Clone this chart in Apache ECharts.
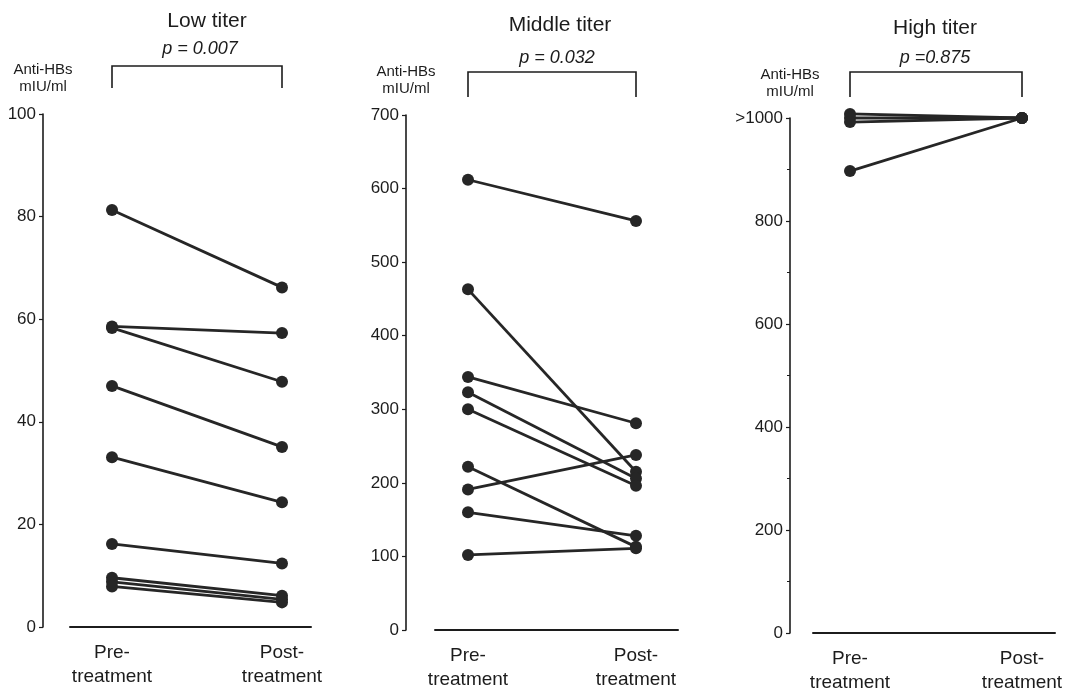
<!DOCTYPE html>
<html>
<head>
<meta charset="utf-8">
<script src="https://cdn.jsdelivr.net/npm/echarts@6/dist/echarts.min.js"></script>
<style>
html,body{margin:0;padding:0;background:#fff;}
#chart{width:1067px;height:697px;}
</style>
</head>
<body>
<div id="chart"></div>
<script>
// ---- data ----
const categories = ['Pre-\ntreatment', 'Post-\ntreatment'];
const panelTitles = ['Low titer', 'Middle titer', 'High titer'];
const pValues = ['p = 0.007', 'p = 0.032', 'p =0.875'];
const yAxisName = 'Anti-HBs\nmIU/ml';

const lowPre  = [81.3, 58.6, 58.3, 47.0, 33.1, 16.2, 9.6, 8.8, 7.9];
const lowPost = [66.2, 57.3, 47.8, 35.1, 24.3, 12.4, 6.1, 5.4, 4.8];

const midPre  = [612, 463, 344, 323, 300, 222, 191, 160, 102];
const midPost = [556, 215, 281, 206, 196, 113, 238, 128, 111];

const highPre  = [1008, 1000, 992, 897];
const highPost = [1000, 1000, 1000, 1000];

const lowTicks  = {min: 0, max: 100, interval: 20};
const midTicks  = {min: 0, max: 700, interval: 100};
const highTicks = {min: 0, max: 1000, interval: 200};

// ---- layout ----
const FONT = '"Liberation Sans", Arial, Helvetica, sans-serif';
const INK = '#1c1c1c';
const panels = [
  {pre: lowPre,  post: lowPost,  ticks: lowTicks,  axisX: 43,  lineL: 70,  lineW: 241, dataL: 112, dataW: 170, top: 114, bottom: 627, nameGap: 19,
   titleX: 207, titleY: 21, pX: 200, pY: 49, brTop: 66, brBot: 88, fmt: v => v},
  {pre: midPre,  post: midPost,  ticks: midTicks,  axisX: 406, lineL: 435, lineW: 243, dataL: 468, dataW: 168, top: 115, bottom: 630, nameGap: 18,
   titleX: 560, titleY: 25, pX: 557, pY: 58, brTop: 72, brBot: 97, fmt: v => v},
  {pre: highPre, post: highPost, ticks: highTicks, axisX: 790, lineL: 813, lineW: 242, dataL: 850, dataW: 172, top: 118, bottom: 633, nameGap: 18,
   titleX: 935, titleY: 28, pX: 935, pY: 58, brTop: 72, brBot: 97, fmt: v => (v === 1000 ? '>1000' : v), minor: true}
];

const grid = [], xAxis = [], yAxis = [], series = [];
panels.forEach((p, i) => {
  const h = p.bottom - p.top;
  grid.push({left: p.lineL, top: p.top, width: p.lineW, height: h});
  grid.push({left: p.dataL, top: p.top, width: p.dataW, height: h});
  // axis grid
  xAxis.push({gridIndex: 2*i, type: 'category', data: categories, show: true,
    axisLine: {show: true, lineStyle: {color: INK, width: 2}}, axisTick: {show: false}, axisLabel: {show: false}, splitLine: {show: false}});
  yAxis.push({gridIndex: 2*i, type: 'value', min: p.ticks.min, max: p.ticks.max, interval: p.ticks.interval,
    offset: p.lineL - p.axisX,
    name: yAxisName, nameLocation: 'end', nameGap: p.nameGap,
    nameTextStyle: {fontFamily: FONT, fontSize: 15, color: INK, align: 'center', verticalAlign: 'bottom', lineHeight: 17},
    axisLine: {show: true, lineStyle: {color: INK, width: 1.6}},
    axisTick: {show: true, length: 4, lineStyle: {color: INK, width: 1.2}},
    minorTick: {show: !!p.minor, splitNumber: 2, length: 3, lineStyle: {color: INK, width: 1}},
    axisLabel: {fontFamily: FONT, fontSize: 17, color: INK, margin: 7, formatter: p.fmt},
    splitLine: {show: false}});
  // data grid
  xAxis.push({gridIndex: 2*i+1, type: 'category', data: categories, boundaryGap: false,
    axisLine: {show: false}, axisTick: {show: false},
    axisLabel: {show: true, interval: 0, fontFamily: FONT, fontSize: 19, color: INK, margin: 14, lineHeight: 24, align: 'center'},
    splitLine: {show: false}});
  yAxis.push({gridIndex: 2*i+1, type: 'value', min: p.ticks.min, max: p.ticks.max, interval: p.ticks.interval, show: false, splitLine: {show: false}});
  p.pre.forEach((v, k) => {
    series.push({type: 'line', xAxisIndex: 2*i+1, yAxisIndex: 2*i+1, clip: false,
      data: [v, p.post[k]], symbol: 'circle', symbolSize: 12, showSymbol: true,
      lineStyle: {color: '#262626', width: 2.8}, itemStyle: {color: '#262626'},
      emphasis: {disabled: true}, silent: true, animation: false});
  });
});

const chart = echarts.init(document.getElementById('chart'), null, {renderer: 'canvas'});
chart.setOption({backgroundColor: '#fff', animation: false, grid, xAxis, yAxis, series});

// titles, p-values and brackets
const graphic = [];
panels.forEach((p, i) => {
  const x0 = chart.convertToPixel({xAxisIndex: 2*i+1}, categories[0]);
  const x1 = chart.convertToPixel({xAxisIndex: 2*i+1}, categories[1]);
  graphic.push({type: 'text', x: p.titleX, y: p.titleY, style: {text: panelTitles[i], font: '21px ' + FONT, fill: INK, textAlign: 'center', textVerticalAlign: 'middle'}});
  graphic.push({type: 'text', x: p.pX, y: p.pY, style: {text: pValues[i], font: 'italic 18px ' + FONT, fill: INK, textAlign: 'center', textVerticalAlign: 'middle'}});
  graphic.push({type: 'polyline', shape: {points: [[x0, p.brBot], [x0, p.brTop], [x1, p.brTop], [x1, p.brBot]]},
    style: {stroke: INK, lineWidth: 1.6, fill: null}});
});
chart.setOption({graphic});
</script>
</body>
</html>
